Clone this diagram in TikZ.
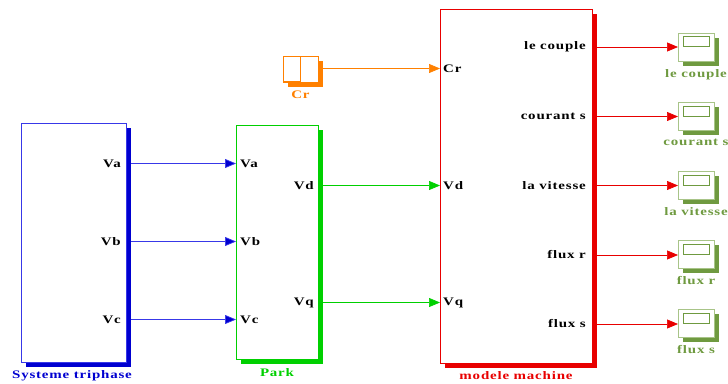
\documentclass[tikz,border=0pt]{standalone}
\usepackage{xcolor}
\usepackage{fontspec}
\setmainfont[FakeStretch=1.3,LetterSpace=7]{Liberation Serif}
\usetikzlibrary{arrows.meta,positioning,shadows}
\definecolor{sysblue}{HTML}{0000D0}
\definecolor{sysline}{HTML}{3838E8}
\definecolor{parkgreen}{HTML}{00D000}
\definecolor{machred}{HTML}{E80000}
\definecolor{crorange}{HTML}{FF8000}
\definecolor{scopegreen}{HTML}{6F9A40}
\definecolor{scopeedge}{HTML}{A8C488}
\tikzset{
  block/.style={
    draw=#1,
    fill=white,
    line width=0.8pt,
    inner sep=0pt,
    outer sep=0pt,
    drop shadow={shadow xshift=5pt, shadow yshift=-4.5pt, fill=#1, opacity=1}
  },
  scopebox/.style={
    block=scopegreen,
    draw=scopeedge,
    line width=1pt,
    minimum width=36pt,
    minimum height=28pt
  },
  inbox/.style={
    draw=#1,
    fill=white,
    line width=0.8pt,
    inner sep=0pt,
    outer sep=0pt
  },
  scopein/.style={
    inbox=scopegreen,
    anchor=north,
    yshift=-3.5pt,
    minimum width=26pt,
    minimum height=10pt
  },
  port/.style={
    font=\fontsize{11.5}{13}\bfseries,
    text=black,
    inner sep=0pt,
    yshift=-0.5pt
  },
  caption/.style={
    font=\fontsize{11.5}{13}\bfseries,
    text=#1,
    inner sep=0pt
  },
  rel/.style 2 args={
    draw=#1,
    line width=0.7pt,
    shorten <=5pt,
    -{Triangle[length=11pt,width=9pt,fill=#2]}
  }
}
\begin{document}
\begin{tikzpicture}[x=1pt,y=-1pt,node distance=8.5pt]
  \useasboundingbox (0,0) rectangle (728,383);

  % blocks
  \node[block=sysblue, draw=sysline, minimum width=105pt, minimum height=239pt] (sys) at (73.5,242.5) {};
  \node[block=parkgreen, minimum width=82pt, minimum height=234pt] (park) at (277,242.5) {};
  \node[block=machred, minimum width=152pt, minimum height=354pt] (machine) at (516,186) {};
  \node[block=crorange, minimum width=35pt, minimum height=26pt] (cr) at (300.5,69) {};
  \node[inbox=crorange, anchor=north west, minimum width=17pt, minimum height=25pt] (crin) at (cr.north west) {};

  % scopes
  \node[scopebox] (sa) at (696,47) {};
  \node[scopebox] (sb) at (696,116.5) {};
  \node[scopebox] (sc) at (696,185.5) {};
  \node[scopebox] (sd) at (696,254.5) {};
  \node[scopebox] (se) at (696,323.5) {};
  \node[scopein] (sain) at (sa.north) {};
  \node[scopein] (sbin) at (sb.north) {};
  \node[scopein] (scin) at (sc.north) {};
  \node[scopein] (sdin) at (sd.north) {};
  \node[scopein] (sein) at (se.north) {};

  % ports
  \node[port, anchor=east] (sysva) at (121,163) {Va};
  \node[port, anchor=east] (sysvb) at (121,241) {Vb};
  \node[port, anchor=east] (sysvc) at (121,319) {Vc};
  \node[port, anchor=west] (parkva) at (240,163) {Va};
  \node[port, anchor=west] (parkvb) at (240,241) {Vb};
  \node[port, anchor=west] (parkvc) at (240,319) {Vc};
  \node[port, anchor=east] (parkvd) at (314,185) {Vd};
  \node[port, anchor=east] (parkvq) at (314,302) {Vq};
  \node[port, anchor=west] (machcr) at (443,68) {Cr};
  \node[port, anchor=west] (machvd) at (443,185) {Vd};
  \node[port, anchor=west] (machvq) at (443,302) {Vq};
  \node[port, anchor=east] (machcp) at (586,46.5) {le couple};
  \node[port, anchor=east] (machcs) at (586,116) {courant s};
  \node[port, anchor=east] (machvt) at (586,185) {la vitesse};
  \node[port, anchor=east] (machfr) at (586,254.5) {flux r};
  \node[port, anchor=east] (machfs) at (586,323.5) {flux s};

  % captions
  \node[caption=sysblue, below=of sys, xshift=-1.5pt] (syscap) {Systeme triphase};
  \node[caption=parkgreen, below=of park] (parkcap) {Park};
  \node[caption=machred, below=of machine] (machcap) {modele machine};
  \node[caption=crorange, below=9pt of cr] (crcap) {Cr};
  \node[caption=scopegreen, below=8pt of sa] (sacap) {le couple};
  \node[caption=scopegreen, below=8pt of sb] (sbcap) {courant s};
  \node[caption=scopegreen, below=8pt of sc] (sccap) {la vitesse};
  \node[caption=scopegreen, below=8pt of sd] (sdcap) {flux r};
  \node[caption=scopegreen, below=8pt of se] (secap) {flux s};

  % connectors
  \draw[rel={sysline}{sysblue}] (sysva -| sys.east) -- (parkva -| park.west);
  \draw[rel={sysline}{sysblue}] (sysvb -| sys.east) -- (parkvb -| park.west);
  \draw[rel={sysline}{sysblue}] (sysvc -| sys.east) -- (parkvc -| park.west);
  \draw[rel={parkgreen}{parkgreen}] (parkvd -| park.east) -- (machvd -| machine.west);
  \draw[rel={parkgreen}{parkgreen}] (parkvq -| park.east) -- (machvq -| machine.west);
  \draw[rel={crorange}{crorange}] (cr.east |- machcr) -- (machcr -| machine.west);
  \draw[rel={machred}{machred}] (machcp -| machine.east) -- (machcp -| sa.west);
  \draw[rel={machred}{machred}] (machcs -| machine.east) -- (machcs -| sb.west);
  \draw[rel={machred}{machred}] (machvt -| machine.east) -- (machvt -| sc.west);
  \draw[rel={machred}{machred}] (machfr -| machine.east) -- (machfr -| sd.west);
  \draw[rel={machred}{machred}] (machfs -| machine.east) -- (machfs -| se.west);
\end{tikzpicture}
\end{document}
